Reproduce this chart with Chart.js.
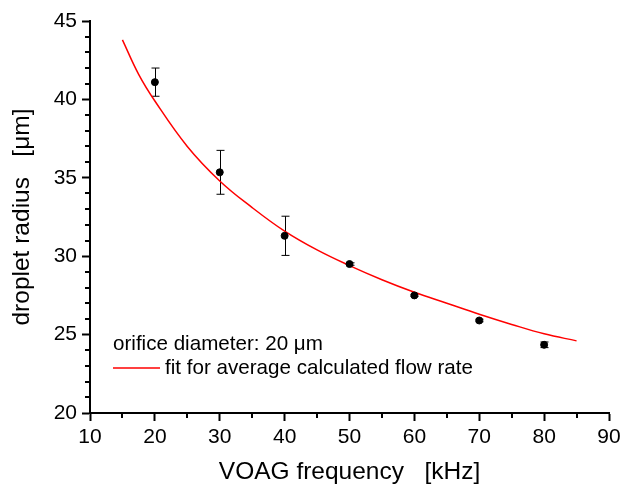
<!DOCTYPE html>
<html>
<head>
<meta charset="utf-8">
<script src="https://cdn.jsdelivr.net/npm/chart.js@4"></script>
<style>
html, body { margin: 0; padding: 0; background: #fff; }
</style>
</head>
<body>
<canvas id="chart" width="624" height="491"></canvas>
<script>
const freq = [20, 30, 40, 50, 60, 70, 80];
const radius = [41.1, 35.35, 31.3, 29.5, 27.5, 25.9, 24.35];
const radiusErr = [0.9, 1.4, 1.25, 0.08, 0.07, 0.08, 0.18];
const fitFreq = [15, 17.5, 20, 25, 30, 35, 40, 45, 50, 55, 60, 65, 70, 75, 80, 85];
const fitRadius = [43.8, 41.6, 39.9, 37.0, 34.8, 33.1, 31.6, 30.4, 29.4, 28.5, 27.7, 27.0, 26.3, 25.65, 25.05, 24.6];
const xMinorTicks = [15, 25, 35, 45, 55, 65, 75, 85];
const yMinorTicks = [21, 22, 23, 24, 26, 27, 28, 29, 31, 32, 33, 34, 36, 37, 38, 39, 41, 42, 43, 44];

const FONT = 'Arial, "Liberation Sans", sans-serif';

// error bars drawn under the points
const errorBars = {
    id: 'errorBars',
    beforeDatasetsDraw(chart) {
        const { ctx, scales: { x, y } } = chart;
        ctx.save();
        ctx.strokeStyle = '#000';
        ctx.lineWidth = 1;
        freq.forEach((f, i) => {
            const px = Math.round(x.getPixelForValue(f)) + 0.5;
            const top = y.getPixelForValue(radius[i] + radiusErr[i]);
            const bot = y.getPixelForValue(radius[i] - radiusErr[i]);
            ctx.beginPath();
            ctx.moveTo(px, top);
            ctx.lineTo(px, bot);
            ctx.moveTo(px - 4, top);
            ctx.lineTo(px + 4, top);
            ctx.moveTo(px - 4, bot);
            ctx.lineTo(px + 4, bot);
            ctx.stroke();
        });
        ctx.restore();
    }
};

// minor ticks + legend text
const extras = {
    id: 'extras',
    afterDraw(chart) {
        const { ctx, chartArea, scales: { x, y } } = chart;
        ctx.save();
        ctx.strokeStyle = '#000';
        ctx.lineWidth = 2;
        ctx.beginPath();
        xMinorTicks.forEach(v => {
            const px = Math.round(x.getPixelForValue(v));
            ctx.moveTo(px, chartArea.bottom);
            ctx.lineTo(px, chartArea.bottom + 5);
        });
        yMinorTicks.forEach(v => {
            const py = Math.round(y.getPixelForValue(v));
            ctx.moveTo(chartArea.left, py);
            ctx.lineTo(chartArea.left - 5, py);
        });
        ctx.stroke();

        const lx = chartArea.left + 23;
        ctx.font = '20.6px ' + FONT;
        ctx.fillStyle = '#000';
        ctx.textBaseline = 'middle';
        ctx.fillText('orifice diameter: 20 \u03bcm', lx, 344);
        ctx.strokeStyle = '#ff0000';
        ctx.lineWidth = 1.5;
        ctx.beginPath();
        ctx.moveTo(lx, 368);
        ctx.lineTo(lx + 47, 368);
        ctx.stroke();
        ctx.fillText('fit for average calculated flow rate', lx + 52, 368);
        ctx.restore();
    }
};

new Chart(document.getElementById('chart'), {
    type: 'scatter',
    data: {
        datasets: [
            {
                label: 'data',
                data: freq.map((f, i) => ({ x: f, y: radius[i] })),
                backgroundColor: '#000',
                borderColor: '#000',
                pointRadius: 3.5,
                order: 1
            },
            {
                label: 'fit',
                type: 'line',
                data: fitFreq.map((f, i) => ({ x: f, y: fitRadius[i] })),
                borderColor: '#ff0000',
                borderWidth: 1.5,
                pointRadius: 0,
                tension: 0.4,
                fill: false,
                order: 2
            }
        ]
    },
    options: {
        responsive: false,
        animation: false,
        layout: { padding: { top: 21, right: 15 } },
        plugins: {
            legend: { display: false },
            tooltip: { enabled: false }
        },
        scales: {
            x: {
                type: 'linear',
                min: 10,
                max: 90,
                afterFit(scale) {
                    scale.height = 78;
                    scale.paddingLeft = 0;
                    scale.paddingRight = 0;
                },
                ticks: { stepSize: 10, color: '#000', font: { family: FONT, size: 21 }, padding: 4, maxRotation: 0 },
                grid: { drawOnChartArea: false, drawTicks: true, tickLength: 8, tickWidth: 2, tickColor: '#000' },
                border: { display: true, color: '#000', width: 2 },
                title: { display: true, text: 'VOAG frequency   [kHz]', color: '#000', font: { family: FONT, size: 24.5 }, padding: { top: 0, bottom: 4 } }
            },
            y: {
                type: 'linear',
                min: 20,
                max: 45,
                afterFit(scale) { scale.width = 90; },
                ticks: { stepSize: 5, color: '#000', font: { family: FONT, size: 21 }, padding: 5 },
                grid: { drawOnChartArea: false, drawTicks: true, tickLength: 8, tickWidth: 2, tickColor: '#000' },
                border: { display: true, color: '#000', width: 2 },
                title: { display: true, text: 'droplet radius   [\u03bcm]', color: '#000', font: { family: FONT, size: 24.5 }, padding: { top: 8, bottom: 0 } }
            }
        }
    },
    plugins: [errorBars, extras]
});
</script>
</body>
</html>
